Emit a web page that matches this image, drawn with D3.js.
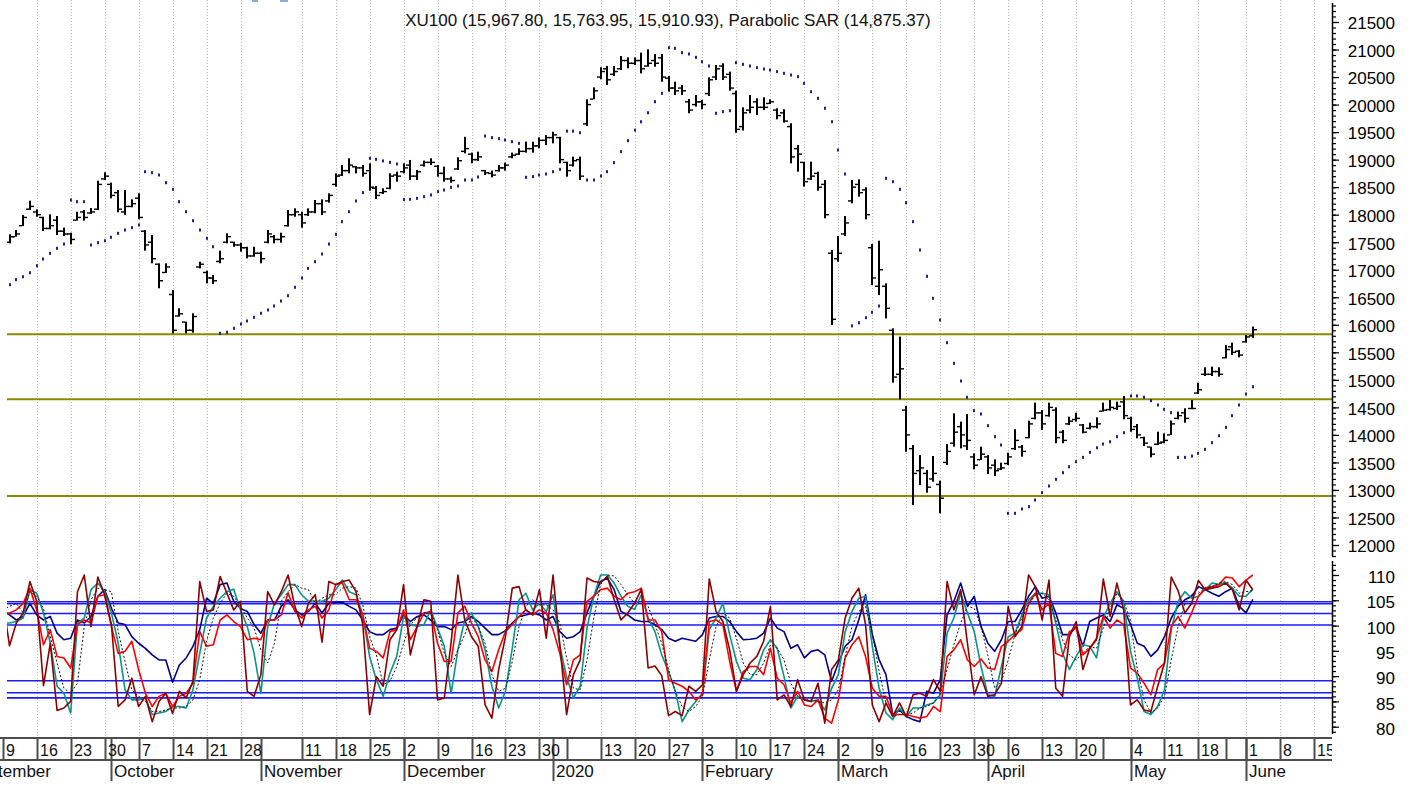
<!DOCTYPE html>
<html>
<head>
<meta charset="utf-8">
<title>XU100 - Parabolic SAR</title>
<script src="https://cdn.jsdelivr.net/npm/d3@7/dist/d3.min.js"></script>
<style>
  body { margin: 0; background: #fff; }
  svg { display: block; font-family: "Liberation Sans", Arial, sans-serif; }
</style>
</head>
<body>
<div id="chart"></div>
<script>
// trading calendar
var holidays = ["2019-10-29", "2020-01-01", "2020-04-23", "2020-05-01", "2020-05-19", "2020-05-25", "2020-05-26"];
var weekLabels = ["2019-09-09", "2019-09-16", "2019-09-23", "2019-09-30", "2019-10-07", "2019-10-14", "2019-10-21", "2019-10-28",
    "2019-11-11", "2019-11-18", "2019-11-25", "2019-12-02", "2019-12-09", "2019-12-16", "2019-12-23", "2019-12-30",
    "2020-01-13", "2020-01-20", "2020-01-27", "2020-02-03", "2020-02-10", "2020-02-17", "2020-02-24",
    "2020-03-02", "2020-03-09", "2020-03-16", "2020-03-23", "2020-03-30", "2020-04-06", "2020-04-13", "2020-04-20",
    "2020-05-04", "2020-05-11", "2020-05-18", "2020-06-01", "2020-06-08", "2020-06-15"];
var quietWeeks = ["2020-01-06", "2020-04-27", "2020-05-27"];
var monthStarts = ["2019-09-02", "2019-10-01", "2019-11-01", "2019-12-02", "2020-01-02", "2020-02-03", "2020-03-02", "2020-04-01", "2020-05-04", "2020-06-01"];
var monthNames = ["September", "October", "November", "December", "2020", "February", "March", "April", "May", "June"];

// XU100 daily bars, 2019-09-09 .. 2020-06-02
var highs = [17600,17643,17722,17994,18254,18097,17963,18006,17976,17764,
    17673,18054,18085,18121,18617,18770,18581,18448,18448,18279,
    18388,17722,17631,17117,17117,16631,16300,16058,16209,17146,
    16982,16904,17346,17662,17510,17491,17418,17418,17328,17722,
    17631,17673,18085,18115,18054,18115,18267,18279,18388,18751,
    18903,19024,18885,18903,18933,18521,18479,18751,18781,18933,
    18994,18812,18982,19024,18903,18873,18691,19042,19415,19127,
    19145,18812,18800,18903,18945,19127,19205,19326,19326,19405,
    19445,19506,19415,18963,19054,19054,20096,20313,20677,20701,
    20701,20882,20858,20858,20943,21004,20919,20919,20519,20416,
    20356,20101,20174,20083,20495,20719,20749,20598,20253,19950,
    20174,20114,20132,20096,19933,19915,19660,19264,18963,18963,
    18781,18630,17358,17613,17976,18630,18642,18497,17467,17527,
    16753,15936,15785,14525,13816,13634,13362,13616,13168,13834,
    14392,14241,14380,13665,13786,13634,13556,13495,13677,14103,
    13816,14259,14586,14452,14586,14501,14089,14331,14404,14198,
    14222,14319,14586,14634,14604,14707,14331,14198,13968,13786,
    14058,14028,14259,14422,14483,14634,14949,15227,15239,15227,
    15633,15675,15542,15814,15968];
var lows = [17450,17480,17600,17794,18085,17963,17704,17734,17631,17613,
    17462,17891,17891,18012,18085,18630,18297,18043,17994,18134,
    17916,17346,17117,16663,16940,15845,16147,15845,15857,17025,
    16753,16740,17117,17480,17418,17328,17207,17236,17117,17480,
    17480,17491,17782,17963,17764,17976,18025,17994,18218,18509,
    18703,18751,18751,18691,18436,18285,18376,18461,18600,18751,
    18630,18630,18873,18903,18691,18600,18581,18812,19115,18933,
    18976,18721,18679,18781,18800,19024,19085,19127,19127,19205,
    19264,19296,18933,18691,18873,18630,19611,20096,20459,20356,
    20519,20628,20659,20719,20568,20688,20688,20416,20234,20174,
    20174,19842,19963,19915,20156,20446,20446,20253,19488,19530,
    19842,19812,19901,20011,19733,19673,18933,18781,18509,18630,
    18436,17934,15996,17146,17613,18206,18327,17916,16722,16541,
    16117,14949,14646,13695,12726,13089,12950,13150,12576,13453,
    13786,13755,13725,13374,13544,13289,13253,13362,13453,13725,
    13604,13938,14283,14089,14331,13848,13848,14180,14241,14028,
    14101,14119,14422,14440,14452,14283,14058,13938,13798,13592,
    13816,13848,13999,14283,14222,14465,14743,15070,15070,15058,
    15390,15451,15409,15675,15764];
var opens = [17550,17500,17600,17800,18100,18050,17950,17750,17900,17700,
    17650,17900,18050,18030,18100,18650,18550,18400,18050,18150,
    18300,17700,17500,17100,16950,16550,16160,16050,15900,17050,
    16950,16850,17150,17500,17500,17450,17400,17250,17300,17500,
    17600,17550,17800,18000,18000,18000,18050,18200,18250,18550,
    18720,18800,18870,18850,18800,18480,18400,18480,18720,18780,
    18900,18700,18900,18950,18880,18750,18650,18830,19150,19100,
    19000,18800,18750,18800,18850,19050,19100,19150,19200,19250,
    19350,19400,19400,18950,18900,19000,19650,20100,20500,20650,
    20550,20650,20800,20750,20800,20700,20800,20850,20480,20300,
    20300,20050,20000,20050,20200,20500,20700,20550,20200,19600,
    19900,20050,19950,20020,19900,19850,19600,19200,18950,18650,
    18750,18550,17300,17200,17650,18250,18550,18450,17400,16700,
    16700,15900,15100,14450,13750,13350,13300,13200,13100,13500,
    13850,14150,13800,13600,13550,13600,13450,13380,13480,13750,
    13780,13950,14300,14400,14350,14450,14050,14200,14280,14180,
    14120,14150,14430,14460,14480,14600,14300,14150,13950,13780,
    13830,13870,14000,14300,14400,14480,14760,15100,15100,15150,
    15400,15600,15520,15690,15800];
var closes = [17500,17600,17650,17950,18150,18000,17750,17800,17700,17650,
    17550,17950,17950,18050,18550,18700,18350,18100,18150,18200,
    17950,17450,17200,16800,17050,15900,16200,15900,16150,17100,
    16850,16800,17200,17600,17450,17400,17250,17300,17200,17650,
    17550,17600,18000,18050,17850,18050,18200,18050,18350,18700,
    18800,18900,18850,18750,18500,18350,18420,18700,18700,18850,
    18700,18780,18950,18950,18750,18650,18620,18980,19200,19000,
    19050,18760,18720,18850,18900,19080,19150,19200,19250,19350,
    19400,19450,19000,18800,18980,18700,20000,20250,20600,20450,
    20600,20800,20750,20800,20650,20750,20750,20500,20300,20250,
    20250,19900,20050,20000,20450,20650,20500,20300,19550,19850,
    19950,19950,19950,20050,19800,19700,19050,19100,18600,18700,
    18500,18000,16100,17300,17850,18500,18400,18000,16850,17000,
    16300,15050,15200,14000,13300,13400,13050,13300,12850,13700,
    14050,14000,13900,13450,13650,13400,13350,13400,13600,13900,
    13700,14200,14400,14200,14500,13950,13900,14250,14300,14050,
    14150,14200,14450,14500,14520,14350,14100,14000,13850,13650,
    13850,13900,14200,14350,14300,14480,14820,15100,15150,15100,
    15550,15500,15450,15780,15911];
var sar = [16650,16728,16820,16873,16946,17073,17195,17298,17389,17467,
    18267,18236,18236,17449,17491,17527,17589,17662,17722,17764,
    17813,18781,18763,18721,18581,18461,18236,18054,17891,17722,
    17571,17418,15845,15864,15936,16014,16069,16136,16209,16269,
    16342,16432,16528,16681,16850,17025,17146,17286,17467,17643,
    17873,18054,18249,18400,19024,19006,18976,18951,18921,18276,
    18279,18297,18327,18358,18418,18448,18497,18521,18630,18630,
    18685,19429,19399,19381,19357,19326,19296,18679,18691,18721,
    18739,18781,18824,19518,19518,19488,18630,18630,18703,18781,
    18945,19145,19345,19536,19688,19852,20052,20205,21033,21022,
    20943,20919,20858,20779,20701,19842,19871,19889,20761,20731,
    20701,20671,20646,20628,20598,20568,20537,20507,20386,20234,
    20114,19933,19688,19175,18739,15980,16038,16129,16227,16341,
    18661,18599,18461,18218,17873,17358,16881,16481,16087,15675,
    15300,14979,14683,14440,14380,14167,13968,13816,12575,12575,
    12654,12696,12817,12950,13072,13193,13313,13422,13513,13592,
    13683,13767,13834,13876,13968,14040,14707,14707,14683,14622,
    14543,14465,14404,13592,13592,13616,13665,13737,13858,13985,
    14137,14349,14543,14743,14875];
var priceLevels = [15827, 14646, 12890];

// lower panel oscillators
var oscDarkRed = [105.1,96.0,100.5,102.5,108.7,104.8,88.1,96.5,83.2,83.7,
    85.0,106.7,110.0,99.8,109.6,106.1,100.2,84.0,85.3,89.6,
    84.0,86.0,81.0,85.0,86.6,82.6,87.0,85.7,89.0,108.7,
    102.8,103.1,109.7,106.4,103.1,104.8,87.0,86.0,90.3,106.7,
    104.1,106.7,110.0,103.8,99.8,104.4,106.1,96.7,108.7,108.1,
    108.7,109.0,106.7,100.2,82.4,89.9,88.0,97.2,99.2,108.1,
    94.2,99.8,105.1,104.8,85.3,85.7,96.7,110.0,101.1,97.8,
    95.9,84.3,81.7,91.3,97.8,107.4,107.7,103.1,102.1,107.1,
    97.5,110.0,96.2,82.4,90.3,93.2,109.4,108.7,108.5,109.7,
    105.1,101.1,102.5,104.4,107.2,91.6,92.0,90.1,82.2,83.0,
    82.2,88.0,87.0,88.3,109.2,102.8,100.8,95.2,87.0,90.3,
    92.6,93.9,96.9,103.8,85.3,86.3,84.0,89.3,85.3,85.0,
    88.6,80.7,91.3,93.2,101.5,105.4,107.4,100.2,84.3,81.0,
    84.7,82.0,84.7,82.0,86.3,86.6,86.0,89.3,87.0,108.7,
    103.1,107.1,96.5,86.3,89.9,86.0,86.3,88.6,103.8,97.8,
    99.8,110.0,107.7,101.1,109.0,87.6,86.0,97.8,100.8,91.3,
    95.5,97.2,109.2,101.8,108.4,103.1,84.3,85.3,83.3,83.0,
    88.0,92.6,109.6,106.9,102.5,104.4,108.9,107.1,107.4,107.7,
    108.4,107.1,103.1,109.0,107.1];
var oscRed = [102.1,102.5,103.1,104.4,107.4,103.1,96.2,99.2,93.9,93.6,
    91.6,100.2,101.1,100.5,105.8,106.1,99.8,94.5,94.9,96.9,
    91.3,86.6,84.0,86.0,86.6,84.0,86.0,86.6,88.6,98.8,
    95.9,96.2,101.1,102.1,100.8,99.8,97.2,97.5,97.2,101.1,
    101.1,102.1,106.5,102.8,101.5,103.1,103.8,101.5,103.1,108.1,
    108.4,105.1,105.1,102.1,95.5,94.9,93.6,98.8,99.2,103.1,
    97.2,99.8,102.5,102.8,96.5,92.9,92.9,102.5,103.8,100.5,
    97.8,93.2,90.9,95.2,98.8,100.2,101.8,103.1,102.1,103.1,
    102.5,99.2,94.5,88.3,93.2,94.2,104.8,105.8,107.1,107.4,
    105.8,105.1,106.4,106.7,107.4,101.1,101.1,98.8,89.3,88.6,
    88.0,87.0,85.3,86.3,100.8,101.1,100.2,92.9,87.0,90.9,
    91.9,91.9,90.3,95.5,89.6,88.3,84.7,87.0,84.3,84.0,
    85.3,81.7,80.7,85.3,93.6,96.2,97.8,93.9,87.6,86.0,
    86.0,82.4,82.4,82.4,82.0,81.7,82.0,84.0,83.0,93.9,
    95.2,97.2,93.2,91.9,93.4,91.6,91.3,95.9,96.9,98.2,
    99.2,104.4,106.4,103.1,104.4,94.5,93.9,98.8,99.5,94.2,
    95.5,97.5,101.8,99.5,101.1,100.2,91.6,90.6,88.6,86.3,
    91.3,92.6,99.8,101.8,99.5,102.5,105.8,107.4,107.7,108.1,
    109.6,109.4,107.7,109.0,110.0];
var oscTeal = [100.5,100.5,100.8,101.5,107.1,106.4,102.5,96.5,88.0,86.6,
    82.7,100.5,101.5,107.1,108.4,106.7,102.5,96.5,87.3,85.3,
    85.3,85.7,82.4,82.7,83.0,84.0,84.0,83.7,87.3,94.5,
    101.5,103.8,105.4,106.7,107.2,103.1,99.8,94.5,86.6,99.8,
    104.4,106.1,108.1,108.1,106.1,104.8,104.8,104.8,105.4,107.1,
    109.0,106.7,106.1,102.1,93.9,89.3,86.0,90.6,93.9,101.8,
    100.2,99.8,100.2,103.1,99.5,95.9,86.6,95.2,101.1,102.5,
    99.8,95.2,88.0,83.7,87.0,95.5,105.1,106.4,103.1,104.4,
    102.8,106.1,95.9,89.9,85.7,88.0,99.5,105.8,110.0,110.0,
    108.4,105.8,103.8,103.2,106.1,101.5,98.8,94.2,90.9,87.0,
    81.0,83.3,85.0,86.6,99.2,101.5,104.4,98.2,92.9,89.6,
    89.3,91.3,95.2,97.2,95.5,89.9,83.7,86.0,85.3,85.0,
    85.3,83.3,87.6,90.3,98.8,102.8,105.4,105.8,95.9,87.6,
    82.7,81.4,83.7,82.0,83.7,83.7,84.3,84.7,86.3,98.5,
    101.5,106.4,102.5,98.8,91.9,86.3,86.0,91.9,97.8,98.5,
    102.1,105.1,106.4,106.4,106.1,100.5,94.5,91.3,93.9,96.2,
    95.9,93.6,101.5,104.4,106.7,104.8,94.9,89.6,83.0,82.4,
    84.0,87.3,99.2,104.8,106.7,105.4,105.8,107.1,108.4,108.1,
    108.5,107.4,105.8,105.8,107.2];
var oscDotted = [103.1,103.8,104.4,102.5,106.7,105.8,103.4,97.8,92.6,87.6,
    86.6,88.6,99.8,105.1,107.4,107.1,106.7,98.8,92.9,87.3,
    86.0,85.0,83.0,83.0,83.3,83.7,83.7,84.0,85.3,89.3,
    96.9,101.5,104.4,106.4,105.8,103.8,101.5,99.5,95.2,92.6,
    96.5,104.8,106.7,108.1,107.4,107.1,104.4,105.4,106.1,106.1,
    107.4,107.7,107.4,104.1,97.8,94.2,88.3,89.0,91.9,96.5,
    100.2,101.5,102.5,102.5,99.2,94.5,91.9,95.2,98.2,101.8,
    99.8,96.5,90.3,87.0,87.6,92.9,99.8,103.8,105.1,104.1,
    104.1,103.1,100.5,93.6,87.6,87.3,93.2,101.5,108.1,110.0,
    109.8,108.1,106.1,104.4,104.8,103.8,100.2,96.5,91.3,87.0,
    84.0,83.0,84.0,86.0,93.2,99.8,102.5,101.5,97.5,92.6,
    90.3,90.3,92.6,96.2,95.5,93.2,88.6,86.0,85.3,85.3,
    85.0,84.7,85.3,87.3,93.9,99.8,102.8,103.8,98.5,90.9,
    84.7,82.0,82.4,82.4,82.7,83.7,84.0,84.7,86.6,91.3,
    96.2,100.5,103.8,103.4,99.8,94.2,87.6,89.0,93.2,98.2,
    101.5,104.1,106.1,106.4,105.1,101.1,97.2,94.2,93.2,94.5,
    95.9,95.5,99.5,103.4,106.4,104.8,101.1,91.3,85.3,82.7,
    83.7,86.0,93.2,99.8,104.4,106.1,106.4,107.4,107.7,108.4,
    108.7,108.1,106.4,106.7,106.9];
var oscNavy = [103.1,102.1,101.1,101.8,104.4,102.1,101.1,101.8,98.5,97.2,
    97.5,101.1,100.5,101.8,105.8,107.1,103.4,100.5,100.2,97.8,
    96.5,95.5,94.2,93.2,93.2,88.8,92.2,93.6,95.9,99.2,
    105.4,104.4,108.1,108.4,104.8,103.4,102.8,100.2,98.5,101.1,
    101.1,103.8,105.1,103.1,102.1,102.8,104.4,102.5,104.4,104.6,
    104.6,103.8,103.1,101.1,98.8,98.2,98.2,99.2,99.5,102.1,
    100.8,101.8,102.1,101.1,99.8,99.8,99.2,100.5,100.8,101.8,
    100.8,99.5,98.2,98.2,99.0,100.5,101.8,102.1,102.5,102.1,
    101.1,101.8,98.8,97.5,97.8,98.8,102.5,105.8,108.7,109.4,
    107.1,102.8,102.1,101.1,100.8,100.8,100.2,99.2,97.5,96.9,
    97.5,97.2,96.9,98.2,101.5,101.8,101.8,100.8,98.8,97.2,
    97.3,97.5,98.5,101.5,99.5,98.8,95.5,96.2,93.6,94.9,
    95.2,94.2,89.0,92.6,95.9,97.2,101.1,106.1,98.2,93.2,
    90.3,82.4,83.3,82.0,81.4,81.0,87.0,86.6,89.3,102.1,
    104.8,108.4,103.8,105.8,99.8,96.5,94.9,97.2,100.8,100.8,
    103.1,105.8,107.7,105.4,105.8,102.5,98.2,98.2,99.8,95.9,
    100.8,101.5,102.1,100.8,104.1,103.4,100.2,96.5,95.9,93.9,
    95.2,97.8,101.5,103.8,105.1,105.8,107.7,107.1,106.4,105.8,
    106.7,107.4,103.8,102.5,105.2];
var oscLevels = [104.7, 104.3, 102.4, 100.1, 89.1, 86.7, 85.7];

var titleText = "XU100 (15,967.80, 15,763.95, 15,910.93), Parabolic SAR (14,875.37)";

var width = 1413, height = 785;
var plotLeft = 7, plotRight = 1332;
var axisTop = 738, axisMid = 760, axisBottom = 781;

//Calendar
var parseDay = d3.utcParse("%Y-%m-%d"), fmtDay = d3.utcFormat("%Y-%m-%d");
function isWeekday(d) { var w = d.getUTCDay(); return w > 0 && w < 6; }
var days = d3.utcDay.range(parseDay("2019-09-09"), parseDay("2020-06-20"))
    .filter(function(d) { return isWeekday(d) && holidays.indexOf(fmtDay(d)) < 0; });
var dayIndex = {};
days.forEach(function(d, i) { dayIndex[fmtDay(d)] = i; });

function dayPos(s) {
    if (s in dayIndex) return dayIndex[s];
    // before first bar, count weekdays back
    var t = parseDay("2019-09-09"), d = parseDay(s), n = 0;
    while (t > d) { t = d3.utcDay.offset(t, -1); if (isWeekday(t)) n++; }
    return -n;
}

var x = d3.scaleLinear().domain([dayIndex["2019-09-16"], dayIndex["2020-06-01"]]).range([36.7, 1246]);
var yPrice = d3.scaleLinear().domain([12000, 21500]).range([545, 22]);
var yOsc = d3.scaleLinear().domain([80, 110]).range([726.7, 575]);

function px(i) { return Math.round(x(i)); }

var svg = d3.select("#chart").append("svg")
    .attr("width", width)
    .attr("height", height);

var defs = svg.append("defs");
defs.append("clipPath").attr("id", "clipPrice").append("rect")
    .attr("x", plotLeft).attr("y", 0).attr("width", plotRight - plotLeft).attr("height", 556);
defs.append("clipPath").attr("id", "clipOsc").append("rect")
    .attr("x", plotLeft).attr("y", 558).attr("width", plotRight - plotLeft).attr("height", 178);
defs.append("clipPath").attr("id", "clipAxis").append("rect")
    .attr("x", 0).attr("y", 730).attr("width", plotRight).attr("height", 55);

// little marks at top left
svg.append("rect").attr("x", 252).attr("y", 0).attr("width", 6).attr("height", 2).attr("fill", "#8aaad8");
svg.append("rect").attr("x", 280).attr("y", 0).attr("width", 8).attr("height", 2).attr("fill", "#8aaad8");

//Grid
weekLabels.forEach(function(s) {
    var gx = px(dayPos(s)) + 0.5;
    if (gx < plotLeft || gx > plotRight) return;
    svg.append("line")
        .attr("x1", gx).attr("x2", gx)
        .attr("y1", 0).attr("y2", axisTop)
        .attr("stroke", "#bcbcbc")
        .attr("stroke-width", 1)
        .attr("stroke-dasharray", "1,2");
});

// price panel
var pricePlot = svg.append("g").attr("clip-path", "url(#clipPrice)");

pricePlot.selectAll(".level")
    .data(priceLevels)
    .enter().append("line")
    .attr("class", "level")
    .attr("x1", plotLeft).attr("x2", plotRight)
    .attr("y1", function(d) { return yPrice(d); })
    .attr("y2", function(d) { return yPrice(d); })
    .attr("stroke", "#8a8a00")
    .attr("stroke-width", 2);

var bars = pricePlot.selectAll(".bar")
    .data(highs)
    .enter().append("g")
    .attr("class", "bar");

bars.append("rect")
    .attr("x", function(d, i) { return px(i) - 1; })
    .attr("y", function(d, i) { return yPrice(highs[i]); })
    .attr("width", 2)
    .attr("height", function(d, i) { return Math.max(1, yPrice(lows[i]) - yPrice(highs[i])); })
    .attr("fill", "#000");

bars.append("rect")
    .attr("x", function(d, i) { return px(i) - 4; })
    .attr("y", function(d, i) { return yPrice(opens[i]) - 0.7; })
    .attr("width", 3)
    .attr("height", 1.4)
    .attr("fill", "#000");

bars.append("rect")
    .attr("x", function(d, i) { return px(i) + 1; })
    .attr("y", function(d, i) { return yPrice(closes[i]) - 0.7; })
    .attr("width", 3)
    .attr("height", 1.4)
    .attr("fill", "#000");

pricePlot.selectAll(".sar")
    .data(sar)
    .enter().append("rect")
    .attr("class", "sar")
    .attr("x", function(d, i) { return px(i) - 1; })
    .attr("y", function(d) { return yPrice(d) - 1.5; })
    .attr("width", 2)
    .attr("height", 3)
    .attr("fill", "#1e1e96");

// oscillator panel
var oscPlot = svg.append("g").attr("clip-path", "url(#clipOsc)");

oscPlot.selectAll(".olevel")
    .data(oscLevels)
    .enter().append("line")
    .attr("class", "olevel")
    .attr("x1", plotLeft).attr("x2", plotRight)
    .attr("y1", function(d) { return yOsc(d); })
    .attr("y2", function(d) { return yOsc(d); })
    .attr("stroke", "#1a1aff")
    .attr("stroke-width", 1.6);

var oscLine = d3.line()
    .x(function(d, i) { return x(i); })
    .y(function(d) { return yOsc(d); });

var series = [
    {values: oscNavy, color: "#00008b", w: 1.6, dash: null},
    {values: oscTeal, color: "#0a9488", w: 1.6, dash: null},
    {values: oscRed, color: "#ff0000", w: 1.6, dash: null},
    {values: oscDotted, color: "#111", w: 1, dash: "2,2"},
    {values: oscDarkRed, color: "#8b0000", w: 1.6, dash: null}
];

series.forEach(function(s) {
    oscPlot.append("path")
        .datum(s.values)
        .attr("d", oscLine)
        .attr("fill", "none")
        .attr("stroke", s.color)
        .attr("stroke-width", s.w)
        .attr("stroke-dasharray", s.dash)
        .attr("stroke-linejoin", "round");
});

//Right axes
function sideAxis(scale, minor, major, top, bottom, labelDy) {
    var g = svg.append("g").attr("transform", "translate(" + plotRight + ",0)");
    g.append("g")
        .call(d3.axisRight(scale).tickValues(minor).tickSize(4).tickFormat(""))
        .call(function(a) { a.select(".domain").remove(); });
    var gm = g.append("g")
        .call(d3.axisRight(scale).tickValues(major).tickSize(7).tickFormat(d3.format("d")))
        .call(function(a) { a.select(".domain").remove(); });
    gm.selectAll("text")
        .attr("x", 63)
        .attr("dy", labelDy)
        .attr("text-anchor", "end")
        .style("font-size", "17px")
        .style("font-family", "'Liberation Sans', Arial, sans-serif")
        .attr("fill", "#000");
    g.selectAll(".tick line").attr("stroke", "#000").attr("stroke-width", 1.2);
    g.append("line")
        .attr("x1", 0.5).attr("x2", 0.5)
        .attr("y1", top).attr("y2", bottom)
        .attr("stroke", "#000").attr("stroke-width", 1.5);
}

sideAxis(yPrice, d3.range(11800, 21801, 100), d3.range(12000, 21501, 500), 3, 556, "0.4em");
sideAxis(yOsc, d3.range(79, 113, 1), d3.range(80, 111, 5), 561, 734, "0.45em");

//Bottom date axis
var dateAxis = svg.append("g");
dateAxis.append("line")
    .attr("x1", 0).attr("x2", plotRight)
    .attr("y1", axisTop).attr("y2", axisTop)
    .attr("stroke", "#4d4d4d").attr("stroke-width", 2);
dateAxis.append("line")
    .attr("x1", 0).attr("x2", plotRight)
    .attr("y1", axisMid).attr("y2", axisMid)
    .attr("stroke", "#4d4d4d").attr("stroke-width", 2);

weekLabels.concat(quietWeeks).forEach(function(s) {
    var tx = px(dayPos(s)) + 0.5;
    if (tx > plotRight) return;
    dateAxis.append("line")
        .attr("x1", tx).attr("x2", tx)
        .attr("y1", axisTop).attr("y2", axisMid)
        .attr("stroke", "#4d4d4d").attr("stroke-width", 2);
});

monthStarts.forEach(function(s) {
    var tx = px(dayPos(s)) + 0.5;
    dateAxis.append("line")
        .attr("x1", tx).attr("x2", tx)
        .attr("y1", axisTop).attr("y2", axisBottom)
        .attr("stroke", "#4d4d4d").attr("stroke-width", 2);
});

var axisText = svg.append("g").attr("clip-path", "url(#clipAxis)");
axisText.selectAll(".wk")
    .data(weekLabels)
    .enter().append("text")
    .attr("class", "wk")
    .attr("x", function(s) { return px(dayPos(s)) + 3; })
    .attr("y", 756)
    .style("font-size", "16px")
    .attr("fill", "#111")
    .text(function(s) { return +s.slice(8); });

// the first month name runs off the left edge, as in the source chart
svg.selectAll(".mo")
    .data(monthStarts)
    .enter().append("text")
    .attr("class", "mo")
    .attr("x", function(s, i) { return i === 0 ? 51 : px(dayPos(s)) + 3; })
    .attr("text-anchor", function(s, i) { return i === 0 ? "end" : "start"; })
    .attr("y", 777)
    .style("font-size", "17px")
    .attr("fill", "#111")
    .text(function(s, i) { return monthNames[i]; });

// title
svg.append("text")
    .attr("x", 668)
    .attr("y", 26)
    .attr("text-anchor", "middle")
    .style("font-size", "17px")
    .attr("fill", "#111")
    .text(titleText);
</script>
</body>
</html>
